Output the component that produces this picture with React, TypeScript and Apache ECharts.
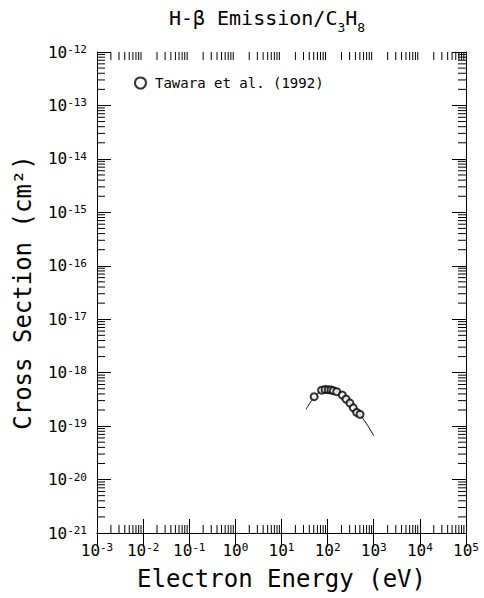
import React, { useEffect, useRef } from "react";
import * as echarts from "echarts";

// Tawara et al. (1992) measured points (eV, cm^2)
const dataEnergy = [51, 74, 88, 103, 118, 133, 157, 208, 250, 305, 360, 427, 503];
const dataCross = [3.55e-19, 4.7e-19, 4.85e-19, 4.8e-19, 4.75e-19, 4.6e-19, 4.4e-19, 3.8e-19, 3.2e-19, 2.7e-19, 2.2e-19, 1.8e-19, 1.66e-19];

// recommended fit curve
const fitEnergy = [34, 45, 60, 80, 110, 150, 200, 300, 450, 700, 1000];
const fitCross = [2.06e-19, 3.0e-19, 4.0e-19, 4.7e-19, 4.95e-19, 4.6e-19, 3.95e-19, 2.8e-19, 1.85e-19, 1.1e-19, 6.6e-20];

const xDecades = [-3, -2, -1, 0, 1, 2, 3, 4];
const yDecades = [-21, -20, -19, -18, -17, -16, -15, -14, -13];
const minorMultipliers = [2, 3, 4, 5, 6, 7, 8, 9];

const FONT = "DejaVu Sans Mono";
// tiny guard so that log10(min) does not round above -21
const Y_MIN = 9.99999999e-22;
const Y_MAX = 1e-12;

export default function App() {
  const ref = useRef<HTMLDivElement>(null);
  useEffect(() => {
    if (!ref.current) return;
    const chart = echarts.init(ref.current, null, { renderer: "svg" });

    const xMinor: number[][] = [];
    xDecades.forEach((e) => minorMultipliers.forEach((m) => xMinor.push([m * Math.pow(10, e), 1e-20])));
    const yMinor: number[][] = [];
    yDecades.forEach((e) => minorMultipliers.forEach((m) => yMinor.push([1e-2, m * Math.pow(10, e)])));

    const rich = {
      b: { fontFamily: FONT, fontSize: 16, fontWeight: "normal", color: "#000", verticalAlign: "bottom", lineHeight: 16 },
      s: { fontFamily: FONT, fontSize: 11, fontWeight: "normal", color: "#000", verticalAlign: "top", lineHeight: 4 },
    };
    const fmt = (v: number) => `{b|10}{s|${Math.round(Math.log10(v))}}`;
    const black = { color: "#000", width: 1 };
    const MINOR = 8;

    chart.setOption({
      animation: false,
      backgroundColor: "#fff",
      title: {
        text: "{t|H-β Emission/C}{d|3}{t|H}{d|8}",
        left: 262,
        textAlign: "center",
        top: 3,
        textStyle: {
          rich: {
            t: { fontFamily: FONT, fontSize: 20, fontWeight: "normal", color: "#000", verticalAlign: "top", lineHeight: 26 },
            d: { fontFamily: FONT, fontSize: 13, fontWeight: "normal", color: "#000", verticalAlign: "bottom", lineHeight: 26 },
          },
        },
      },
      legend: {
        data: ["Tawara et al. (1992)"],
        left: 129,
        top: 71,
        itemWidth: 11,
        itemHeight: 11,
        itemGap: 8,
        icon: "emptyCircle",
        textStyle: { fontFamily: FONT, fontSize: 14, color: "#000", padding: [0, 0, 0, 4] },
      },
      grid: { left: 97, top: 52, width: 369, height: 481, containLabel: false, outerBoundsMode: "none" },
      xAxis: [
        {
          type: "log",
          logBase: 10,
          min: 1e-3,
          max: 1e5,
          position: "bottom",
          name: "Electron Energy (eV)",
          nameLocation: "middle",
          nameGap: 34,
          nameMoveOverlap: false,
          nameTextStyle: { fontFamily: FONT, fontSize: 24, fontWeight: "normal", color: "#000" },
          axisLine: { show: true, lineStyle: black },
          axisTick: { show: true, inside: true, length: 14, lineStyle: black },
          axisLabel: { show: true, formatter: fmt, rich, margin: 9, showMinLabel: true, showMaxLabel: true, hideOverlap: false },
          splitLine: { show: false },
        },
        {
          type: "log",
          logBase: 10,
          min: 1e-3,
          max: 1e5,
          position: "top",
          axisLine: { show: true, lineStyle: black },
          axisTick: { show: true, inside: true, length: 14, lineStyle: black },
          axisLabel: { show: false },
          splitLine: { show: false },
        },
      ],
      yAxis: [
        {
          type: "log",
          logBase: 10,
          min: Y_MIN,
          max: Y_MAX,
          position: "left",
          name: "Cross Section (cm²)",
          nameLocation: "middle",
          nameGap: 62,
          nameMoveOverlap: false,
          nameTextStyle: { fontFamily: FONT, fontSize: 24, fontWeight: "normal", color: "#000" },
          axisLine: { show: true, lineStyle: black },
          axisTick: { show: true, inside: true, length: 14, lineStyle: black },
          axisLabel: { show: true, formatter: fmt, rich, margin: 10, showMinLabel: true, showMaxLabel: true, hideOverlap: false },
          splitLine: { show: false },
        },
        {
          type: "log",
          logBase: 10,
          min: Y_MIN,
          max: Y_MAX,
          position: "right",
          axisLine: { show: true, lineStyle: black },
          axisTick: { show: true, inside: true, length: 14, lineStyle: black },
          axisLabel: { show: false },
          splitLine: { show: false },
        },
      ],
      series: [
        {
          type: "line",
          name: "fit",
          data: fitEnergy.map((e, i) => [e, fitCross[i]]),
          smooth: 0.4,
          showSymbol: false,
          lineStyle: { color: "#000", width: 1 },
          itemStyle: { color: "#000" },
          z: 2,
        },
        {
          type: "scatter",
          name: "Tawara et al. (1992)",
          data: dataEnergy.map((e, i) => [e, dataCross[i]]),
          symbol: "emptyCircle",
          symbolSize: 7,
          itemStyle: { color: "#000", borderColor: "#000", borderWidth: 1 },
          z: 3,
        },
        {
          type: "custom",
          name: "xminor",
          data: xMinor,
          silent: true,
          renderItem: (params: any, api: any) => {
            const x = api.coord([api.value(0), 1e-20])[0];
            const cs = params.coordSys;
            const st = { stroke: "#000", lineWidth: 1 };
            return {
              type: "group",
              children: [
                { type: "line", shape: { x1: x, y1: cs.y + cs.height, x2: x, y2: cs.y + cs.height - MINOR }, style: st },
                { type: "line", shape: { x1: x, y1: cs.y, x2: x, y2: cs.y + MINOR }, style: st },
              ],
            };
          },
        },
        {
          type: "custom",
          name: "yminor",
          data: yMinor,
          silent: true,
          renderItem: (params: any, api: any) => {
            const y = api.coord([1e-2, api.value(1)])[1];
            const cs = params.coordSys;
            const st = { stroke: "#000", lineWidth: 1 };
            return {
              type: "group",
              children: [
                { type: "line", shape: { x1: cs.x, y1: y, x2: cs.x + MINOR, y2: y }, style: st },
                { type: "line", shape: { x1: cs.x + cs.width, y1: y, x2: cs.x + cs.width - MINOR, y2: y }, style: st },
              ],
            };
          },
        },
      ],
    });
    return () => chart.dispose();
  }, []);
  return <div ref={ref} style={{ width: 484, height: 598, position: "absolute", left: 0, top: 0 }} />;
}
